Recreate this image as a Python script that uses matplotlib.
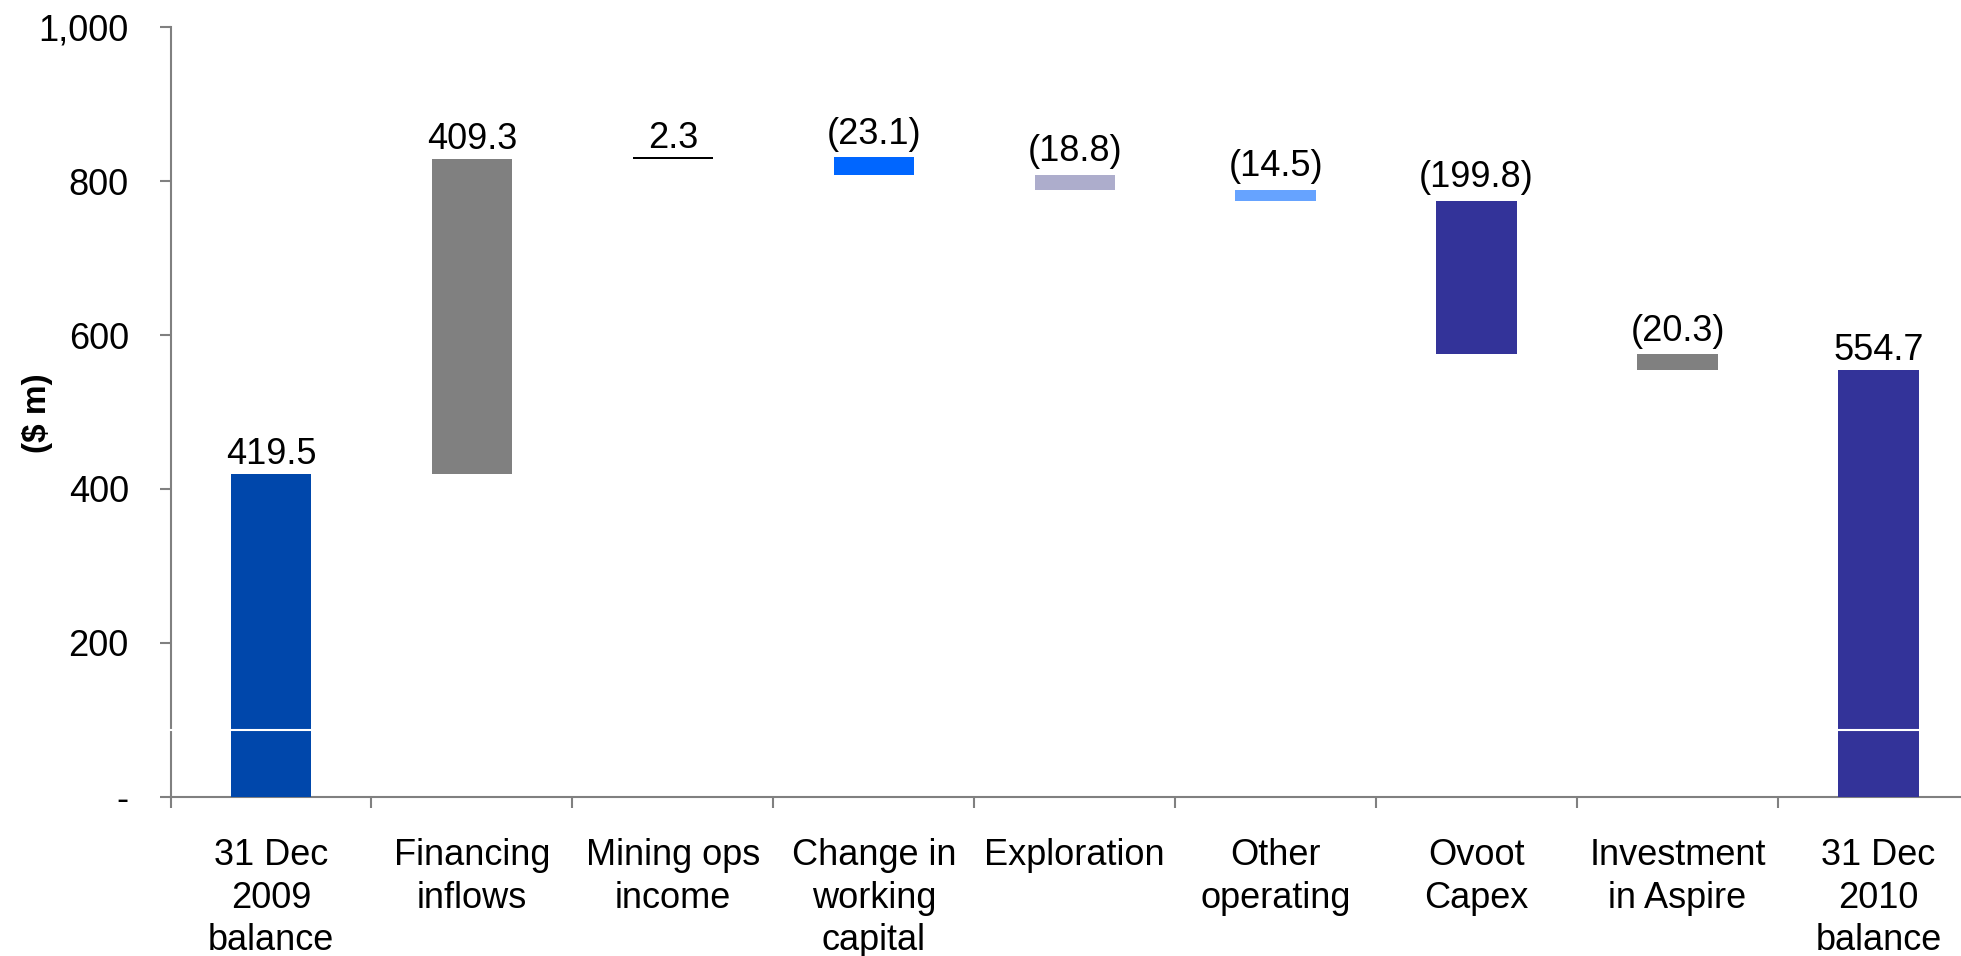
import matplotlib
matplotlib.use("Agg")
import matplotlib.pyplot as plt
import numpy as np

plt.rcParams['font.family'] = ['Liberation Sans', 'DejaVu Sans']

categories = ["31 Dec\n2009\nbalance", "Financing\ninflows", "Mining ops\nincome",
              "Change in\nworking\ncapital", "Exploration", "Other\noperating",
              "Ovoot\nCapex", "Investment\nin Aspire", "31 Dec\n2010\nbalance"]
values = [419.5, 409.3, 2.3, -23.1, -18.8, -14.5, -199.8, -20.3, 554.7]
labels = ["419.5", "409.3", "2.3", "(23.1)", "(18.8)", "(14.5)", "(199.8)", "(20.3)", "554.7"]
is_total = [True, False, False, False, False, False, False, False, True]
colors = ["#0047AB", "#808080", "#000000", "#0066FF", "#ADADCC", "#66A3FF",
          "#333399", "#808080", "#333399"]
yticks = [0, 200, 400, 600, 800, 1000]
yticklabels = ["-", "200", "400", "600", "800", "1,000"]

W, H = 1961, 956
fig = plt.figure(figsize=(W / 100, H / 100), dpi=100)
ax = fig.add_axes([170.5 / W, 159.4 / H, 1808.4 / W, 769.1 / H])

x = np.arange(len(categories))
bottoms, heights = [], []
running = 0.0
for v, tot in zip(values, is_total):
    if tot:
        bottoms.append(0.0)
        heights.append(v)
        running = v
    else:
        if v >= 0:
            bottoms.append(running)
            heights.append(v)
        else:
            bottoms.append(running + v)
            heights.append(-v)
        running += v

ax.bar(x, heights, bottom=bottoms, width=0.4, color=colors, zorder=3)

for xi, b, h, lab in zip(x, bottoms, heights, labels):
    off = 10 if lab.startswith("(") else 7
    ax.annotate(lab, (xi, b + h), xytext=(0, off), textcoords="offset points",
                ha="center", va="baseline", fontsize=26, color="black", zorder=6)

# axis break marker
ax.axhline(87, xmin=-0.004, xmax=1, color="white", lw=1.5, zorder=5, clip_on=False)

ax.set_xlim(-0.5, len(categories) - 0.5)
ax.set_ylim(0, 1000)
ax.set_yticks(yticks)
ax.set_yticklabels(yticklabels, fontsize=26)
ax.set_xticks(x)
ax.set_xticklabels(categories, fontsize=26, linespacing=1.27)
ax.set_xticks(np.arange(len(categories) + 1) - 0.5, minor=True)
ax.tick_params(axis="x", which="major", length=0, pad=30)
ax.tick_params(axis="x", which="minor", length=8, width=1.5, color="#808080", direction="out")
ax.tick_params(axis="y", length=8, width=1.5, color="#808080", direction="out", pad=22)

for s in ["top", "right"]:
    ax.spines[s].set_visible(False)
for s in ["left", "bottom"]:
    ax.spines[s].set_color("#808080")
    ax.spines[s].set_linewidth(1.5)

fig.text(37.5 / W, 1 - 413 / H, "($ m)", rotation=90, fontsize=24, fontweight="bold",
         ha="center", va="center")

fig.savefig("out.png", dpi=100)
